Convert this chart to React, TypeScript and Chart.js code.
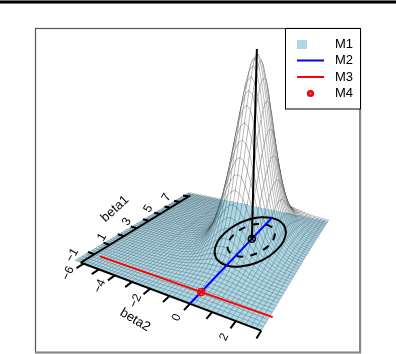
import React, { useEffect, useRef } from "react";
import { Chart, registerables } from "chart.js";

Chart.register(...registerables);

// Mesh nodes of the surface
const beta1Nodes = [-1.8, -1.6, -1.4, -1.2, -1.0, -0.8, -0.6, -0.4, -0.2, 0.0, 0.2, 0.4, 0.6, 0.8, 1.0, 1.2, 1.4, 1.6, 1.8, 2.0, 2.2, 2.4, 2.6, 2.8, 3.0, 3.2, 3.4, 3.6, 3.8, 4.0, 4.2, 4.4, 4.6, 4.8, 5.0, 5.2, 5.4, 5.6, 5.8, 6.0, 6.2, 6.4, 6.6, 6.8, 7.0, 7.2, 7.4, 7.6];
const beta2Nodes = [-6.6, -6.4, -6.2, -6.0, -5.8, -5.6, -5.4, -5.2, -5.0, -4.8, -4.6, -4.4, -4.2, -4.0, -3.8, -3.6, -3.4, -3.2, -3.0, -2.8, -2.6, -2.4, -2.2, -2.0, -1.8, -1.6, -1.4, -1.2, -1.0, -0.8, -0.6, -0.4, -0.2, 0.0, 0.2, 0.4, 0.6, 0.8, 1.0, 1.2, 1.4, 1.6, 1.8, 2.0, 2.2, 2.4, 2.6, 2.8, 3.0];
const modeBeta1 = 3.8;
const modeBeta2 = 0;

// Surface height (percent of the peak), by node distance from the mode:
// row = beta1 steps away, column = beta2 steps away
const heightByOffset = [
  [100, 97, 88, 76, 61, 47, 34, 23.5, 15.8, 10.3, 6.7, 4.4, 2.9, 2.1, 1.4, 1, 0.75, 0.55, 0.4],
  [99, 96, 87, 75, 60.5, 46.5, 33.6, 23.3, 15.7, 10.2, 6.6, 4.4, 2.9, 2.1, 1.4, 1, 0.75, 0.55, 0.4],
  [96, 93, 85, 73, 59, 45, 33, 22.7, 15, 10, 6.5, 4.3, 2.9, 2, 1.4, 1, 0.75, 0.55, 0.4],
  [91, 88, 80.5, 69, 56, 43, 31, 21.7, 14.5, 9.6, 6.2, 4.1, 2.8, 2, 1.4, 1, 0.75, 0.55, 0.4],
  [84.5, 82.3, 75, 64.5, 52.2, 40, 29, 20.3, 13.7, 9, 5.9, 4, 2.7, 1.9, 1.4, 1, 0.75, 0.55, 0.4],
  [77.5, 75, 68.5, 59, 47.7, 36.6, 26.8, 18.8, 12.7, 8.4, 5.5, 3.8, 2.6, 1.85, 1.3, 0.95, 0.7, 0.5, 0.4],
  [69, 67, 61, 52.7, 42.7, 33, 24, 17, 11.6, 7.8, 5.1, 3.5, 2.5, 1.75, 1.25, 0.9, 0.7, 0.5, 0.38],
  [60.5, 59, 54, 46, 37.7, 29, 21.5, 15, 10.3, 7, 4.8, 3.3, 2.3, 1.65, 1.15, 0.85, 0.65, 0.5, 0.35],
  [52.2, 50.7, 46, 40, 33, 25.3, 18.8, 13.3, 9.3, 6.3, 4.3, 3.1, 2.2, 1.55, 1.1, 0.85, 0.6, 0.47, 0.33],
  [44, 43, 39, 34, 27.8, 21.7, 16, 11.6, 8.2, 5.6, 3.9, 2.8, 2, 1.4, 1.05, 0.8, 0.6, 0.45, 0.33],
  [36.6, 35.5, 33, 28.3, 23.2, 18.3, 13.6, 10, 7, 4.9, 3.5, 2.5, 1.85, 1.3, 0.95, 0.75, 0.55, 0.42, 0.3],
  [30, 29, 26.7, 23.2, 19.2, 15, 11.5, 8.4, 5.9, 4.3, 3.2, 2.3, 1.65, 1.2, 0.9, 0.7, 0.5, 0.4, 0.28],
  [24, 23.5, 21.6, 18.7, 15.8, 12.5, 9.6, 7, 5.1, 3.8, 2.8, 2, 1.5, 1.1, 0.85, 0.65, 0.5, 0.37, 0.26],
  [19.2, 18.8, 17.3, 15, 12.7, 10, 7.9, 5.9, 4.4, 3.3, 2.4, 1.85, 1.35, 1, 0.8, 0.6, 0.45, 0.33, 0.24],
  [15, 14.7, 13.6, 12, 10, 8.3, 6.5, 4.9, 3.8, 2.8, 2.2, 1.6, 1.2, 0.95, 0.75, 0.55, 0.42, 0.3, 0.22],
  [11.9, 11.6, 10.7, 9.5, 8.1, 6.7, 5.3, 4.1, 3.2, 2.4, 1.9, 1.4, 1.1, 0.85, 0.65, 0.52, 0.4, 0.28, 0.2],
  [9.2, 9, 8.4, 7.5, 6.5, 5.3, 4.3, 3.4, 2.7, 2.1, 1.65, 1.25, 0.95, 0.75, 0.6, 0.47, 0.35, 0.26, 0.18],
  [7.1, 7, 6.7, 5.9, 5.1, 4.3, 3.5, 2.9, 2.3, 1.85, 1.4, 1.1, 0.85, 0.7, 0.55, 0.42, 0.32, 0.23, 0.16],
  [5.5, 5.4, 5.1, 4.8, 4.2, 3.7, 3.1, 2.6, 2.1, 1.65, 1.3, 1.05, 0.8, 0.65, 0.5, 0.38, 0.28, 0.2, 0.14],
  [4.4, 4.3, 4.1, 3.8, 3.4, 3, 2.6, 2.2, 1.8, 1.45, 1.15, 0.9, 0.72, 0.57, 0.45, 0.35, 0.25, 0.18, 0.12],
  [3.5, 3.4, 3.3, 3, 2.8, 2.5, 2.2, 1.9, 1.55, 1.25, 1, 0.8, 0.63, 0.5, 0.39, 0.3, 0.22, 0.16, 0.1],
  [2.8, 2.8, 2.6, 2.5, 2.3, 2.1, 1.85, 1.6, 1.3, 1.1, 0.9, 0.7, 0.55, 0.43, 0.34, 0.26, 0.2, 0.14, 0.1],
  [2.3, 2.3, 2.2, 2, 1.9, 1.75, 1.55, 1.35, 1.15, 0.95, 0.75, 0.6, 0.48, 0.38, 0.3, 0.23, 0.17, 0.12, 0.08],
  [1.9, 1.85, 1.8, 1.7, 1.55, 1.45, 1.3, 1.15, 0.95, 0.8, 0.65, 0.52, 0.42, 0.33, 0.26, 0.2, 0.15, 0.1, 0.07],
  [1.55, 1.5, 1.45, 1.4, 1.3, 1.2, 1.1, 0.95, 0.8, 0.67, 0.55, 0.45, 0.36, 0.28, 0.22, 0.17, 0.13, 0.09, 0.06],
  [1.2, 1.2, 1.15, 1.1, 1.05, 0.95, 0.85, 0.75, 0.65, 0.55, 0.45, 0.38, 0.3, 0.24, 0.19, 0.15, 0.11, 0.08, 0.05],
  [1, 1, 0.95, 0.9, 0.85, 0.8, 0.7, 0.63, 0.55, 0.47, 0.38, 0.32, 0.26, 0.2, 0.16, 0.12, 0.09, 0.07, 0.04],
  [0.85, 0.85, 0.8, 0.77, 0.72, 0.65, 0.6, 0.52, 0.45, 0.38, 0.32, 0.27, 0.22, 0.17, 0.13, 0.1, 0.08, 0.05, 0.03],
  [0.72, 0.7, 0.68, 0.65, 0.6, 0.55, 0.5, 0.43, 0.38, 0.32, 0.27, 0.22, 0.18, 0.14, 0.11, 0.08, 0.06, 0.04, 0.02],
];

// Axes
const beta1Ticks = [-1, 0, 1, 2, 3, 4, 5, 6, 7];
const beta2Ticks = [-6, -5, -4, -3, -2, -1, 0, 1, 2, 3];
const beta1Labels = [-1, 1, 3, 5, 7];
const beta2Labels = [-6, -4, -2, 0, 2];

// Overlays
const m2Beta1 = [-1.8, 6.5];
const m2Beta2 = [0, 0];
const m3Beta1 = [-1.0, -1.0];
const m3Beta2 = [-5.8, 3.1];
const m4Point = [-1.0, 0];
const peakLineHeight = [0, 103];
const outerBeta1 = [6.5, 6.29, 5.71, 4.83, 3.8, 2.77, 1.89, 1.31, 1.1, 1.31, 1.89, 2.77, 3.8, 4.83, 5.71, 6.29, 6.5];
const outerBeta2 = [0, 0.6, 1.1, 1.44, 1.56, 1.44, 1.1, 0.6, 0, -0.6, -1.1, -1.44, -1.56, -1.44, -1.1, -0.6, 0];
const innerBeta1 = [5.6, 5.46, 5.07, 4.49, 3.8, 3.11, 2.53, 2.14, 2.0, 2.14, 2.53, 3.11, 3.8, 4.49, 5.07, 5.46, 5.6];
const innerBeta2 = [0, 0.4, 0.74, 0.96, 1.04, 0.96, 0.74, 0.4, 0, -0.4, -0.74, -0.96, -1.04, -0.96, -0.74, -0.4, 0];
const legendLabels = ["M1", "M2", "M3", "M4"];

// Perspective view: where the four corners of the base fall on the page
const W = 396, H = 354;
const c0 = [71.5, 263], c1 = [188.5, 193], c2 = [332.5, 222], c3 = [263, 335.5];
const dx1 = c1[0] - c2[0], dy1 = c1[1] - c2[1], dx2 = c3[0] - c2[0], dy2 = c3[1] - c2[1];
const sx = c0[0] - c1[0] + c2[0] - c3[0], sy = c0[1] - c1[1] + c2[1] - c3[1];
const den = dx1 * dy2 - dx2 * dy1;
const pg = (sx * dy2 - dx2 * sy) / den, ph = (dx1 * sy - sx * dy1) / den;
const pa = c1[0] - c0[0] + pg * c1[0], pb = c3[0] - c0[0] + ph * c3[0];
const pd = c1[1] - c0[1] + pg * c1[1], pe = c3[1] - c0[1] + ph * c3[1];
const b1Min = beta1Nodes[0], b1Span = beta1Nodes[beta1Nodes.length - 1] - b1Min;
const b2Min = beta2Nodes[0], b2Span = beta2Nodes[beta2Nodes.length - 1] - b2Min;
const depth = (b1: number, b2: number) => 1 + (pg * (b1 - b1Min)) / b1Span + (ph * (b2 - b2Min)) / b2Span;
const project = (b1: number, b2: number, z = 0) => {
  const u = (b1 - b1Min) / b1Span, v = (b2 - b2Min) / b2Span, w = 1 + pg * u + ph * v;
  return { x: (c0[0] + pa * u + pb * v) / w + 0.05 * z, y: (c0[1] + pd * u + pe * v) / w - 1.9 * z };
};

const modeI = beta1Nodes.indexOf(modeBeta1), modeJ = beta2Nodes.indexOf(modeBeta2);
const heightAt = (i: number, j: number) => {
  const r = heightByOffset[Math.abs(i - modeI)];
  if (!r) return 0;
  const h = r[Math.abs(j - modeJ)];
  return h === undefined ? 0 : h;
};
const surfaceNodes = beta1Nodes.flatMap((b1, i) => beta2Nodes.map((b2, j) => project(b1, b2, heightAt(i, j))));

const BREAK = { x: NaN, y: NaN };
const zip = (a: number[], b: number[]) => a.map((v, i) => project(v, b[i]));
const axisPoints = [
  project(beta1Nodes[0], -6.2), project(7.2, -6.2), BREAK,
  project(beta1Nodes[0], -6.2), project(beta1Nodes[0], 3.0), BREAK,
  ...beta1Ticks.flatMap((t) => [project(t, -6.2), project(t, -6.65), BREAK]),
  ...beta2Ticks.flatMap((t) => [project(-1.8, t), project(-2.2, t), BREAK]),
];

const font = '"Liberation Sans", Arial, sans-serif';

const surfacePlugin = {
  id: "surface",
  beforeDatasetsDraw(chart: any) {
    const { ctx, scales } = chart;
    const X = (p: any) => scales.x.getPixelForValue(p.x);
    const Y = (p: any) => scales.y.getPixelForValue(p.y);
    const n = beta2Nodes.length;
    const cells: { i: number; j: number; d: number }[] = [];
    for (let i = 0; i < beta1Nodes.length - 1; i++)
      for (let j = 0; j < n - 1; j++)
        cells.push({ i, j, d: depth((beta1Nodes[i] + beta1Nodes[i + 1]) / 2, (beta2Nodes[j] + beta2Nodes[j + 1]) / 2) });
    cells.sort((a, b) => b.d - a.d);
    const slope = (c2[1] - c1[1]) / (c2[0] - c1[0]);
    const edgeY = (x: number) => c1[1] + (x - c1[0]) * slope;
    const paint = (above: boolean, fill: string, stroke: string) => {
      ctx.save();
      ctx.beginPath();
      ctx.moveTo(0, edgeY(0));
      ctx.lineTo(W, edgeY(W));
      ctx.lineTo(W, above ? 0 : H);
      ctx.lineTo(0, above ? 0 : H);
      ctx.closePath();
      ctx.clip();
      ctx.lineWidth = 0.5;
      ctx.fillStyle = fill;
      ctx.strokeStyle = stroke;
      for (const c of cells) {
        const a = surfaceNodes[c.i * n + c.j], b = surfaceNodes[c.i * n + c.j + 1];
        const d = surfaceNodes[(c.i + 1) * n + c.j + 1], e = surfaceNodes[(c.i + 1) * n + c.j];
        ctx.beginPath();
        ctx.moveTo(X(a), Y(a));
        ctx.lineTo(X(b), Y(b));
        ctx.lineTo(X(d), Y(d));
        ctx.lineTo(X(e), Y(e));
        ctx.closePath();
        ctx.fill();
        ctx.stroke();
      }
      ctx.restore();
    };
    paint(true, "#ffffff", "rgba(40,40,40,0.42)");
    paint(false, "#ADD8E6", "rgba(45,65,75,0.5)");
  },
  afterDatasetsDraw(chart: any) {
    const { ctx, scales } = chart;
    const X = (p: any) => scales.x.getPixelForValue(p.x);
    const Y = (p: any) => scales.y.getPixelForValue(p.y);
    const text = (s: string, x: number, y: number, deg: number, size: number) => {
      ctx.save();
      ctx.translate(x, y);
      ctx.rotate((deg * Math.PI) / 180);
      ctx.font = `${size}px ${font}`;
      ctx.fillStyle = "#000";
      ctx.textAlign = "center";
      ctx.textBaseline = "middle";
      ctx.fillText(s, 0, 0);
      ctx.restore();
    };
    const minus = (v: number) => (v < 0 ? "\u2212" + Math.abs(v) : String(v));
    for (const t of beta1Labels) {
      const p = project(t, -6.2);
      text(minus(t), X(p) - 22, Y(p) + 1, -60, 12);
    }
    for (const t of beta2Labels) {
      const p = project(-2.65, t);
      text(minus(t), X(p), Y(p), -65, 12);
    }
    text("beta1", 115, 209, -42, 13);
    text("beta2", 135, 320, 31, 13);

    // page furniture
    ctx.fillStyle = "#777";
    ctx.fillRect(0, 0, W, 4);
    ctx.fillStyle = "#000";
    ctx.fillRect(0, 1, W, 2);
    ctx.strokeStyle = "#555";
    ctx.lineWidth = 1.2;
    ctx.strokeRect(35.5, 28.5, 325, 324);
    ctx.strokeStyle = "#888";
    ctx.lineWidth = 2;
    ctx.beginPath();
    ctx.moveTo(360, 109);
    ctx.lineTo(360, 353);
    ctx.moveTo(35, 352.5);
    ctx.lineTo(361, 352.5);
    ctx.stroke();

    // legend
    ctx.fillStyle = "#fff";
    ctx.fillRect(285, 28, 75, 81);
    ctx.strokeStyle = "#000";
    ctx.lineWidth = 1;
    ctx.strokeRect(285.5, 28.5, 75, 80.5);
    ctx.fillStyle = "#ADD8E6";
    ctx.fillRect(297, 40, 10, 9);
    ctx.lineWidth = 2;
    ctx.strokeStyle = "#0000ff";
    ctx.beginPath(); ctx.moveTo(297, 60.5); ctx.lineTo(324, 60.5); ctx.stroke();
    ctx.strokeStyle = "#ff0000";
    ctx.beginPath(); ctx.moveTo(297, 77); ctx.lineTo(324, 77); ctx.stroke();
    ctx.fillStyle = "#f00000";
    ctx.beginPath(); ctx.arc(310.5, 93.5, 3.6, 0, 2 * Math.PI); ctx.fill();
    ctx.fillStyle = "#ff9090";
    ctx.beginPath(); ctx.arc(310.5, 93.5, 1, 0, 2 * Math.PI); ctx.fill();
    legendLabels.forEach((s, i) => {
      ctx.font = `13px ${font}`;
      ctx.fillStyle = "#000";
      ctx.textAlign = "left";
      ctx.textBaseline = "middle";
      ctx.fillText(s, 335, 44.5 + i * 16.3);
    });
  },
};

const line = (label: string, data: any[], color: string, width: number, extra: any = {}) => ({
  label, data, borderColor: color, backgroundColor: color, borderWidth: width,
  showLine: true, pointRadius: 0, ...extra,
});

export default function App() {
  const ref = useRef<HTMLCanvasElement>(null);
  useEffect(() => {
    document.body.style.margin = "0";
    const chart = new Chart(ref.current!, {
      type: "scatter",
      data: {
        datasets: [
          line("M4", [project(m4Point[0], m4Point[1])], "#ff0000", 1.2, { showLine: false, pointRadius: 3.6, pointStyle: "crossRot", pointBorderWidth: 1.2 }),
          line("M4 ring", [project(m4Point[0], m4Point[1])], "#ff0000", 1.2, { showLine: false, pointRadius: 3.6, pointBackgroundColor: "rgba(255,0,0,0.35)", pointBorderWidth: 1.4 }),
          line("mode", [project(modeBeta1, modeBeta2)], "#000", 1.2, { showLine: false, pointRadius: 3, pointStyle: "crossRot", pointBorderWidth: 1.2 }),
          line("mode ring", [project(modeBeta1, modeBeta2)], "#000", 1.2, { showLine: false, pointRadius: 3.6, pointBackgroundColor: "rgba(0,0,0,0.3)", pointBorderWidth: 1.4 }),
          line("peak", peakLineHeight.map((z) => project(modeBeta1, modeBeta2, z)), "#000", 2),
          line("M2", zip(m2Beta1, m2Beta2), "#0000ff", 2),
          line("M3", zip(m3Beta1, m3Beta2), "#ff0000", 2),
          line("inner", zip(innerBeta1, innerBeta2), "#000", 2, { tension: 0.4, borderDash: [7, 7] }),
          line("outer", zip(outerBeta1, outerBeta2), "#000", 2, { tension: 0.4 }),
          line("axes", axisPoints, "#000", 2, { spanGaps: false }),
          { label: "M1", data: surfaceNodes, showLine: false, pointRadius: 0, backgroundColor: "#ADD8E6" },
        ],
      },
      options: {
        animation: false,
        responsive: false,
        layout: { padding: 0 },
        plugins: { legend: { display: false }, tooltip: { enabled: false } },
        scales: {
          x: { type: "linear", min: 0, max: W, display: false },
          y: { type: "linear", min: 0, max: H, reverse: true, display: false },
        },
      },
      plugins: [surfacePlugin],
    } as any);
    return () => chart.destroy();
  }, []);
  return <canvas ref={ref} width={W} height={H} style={{ display: "block" }} />;
}
